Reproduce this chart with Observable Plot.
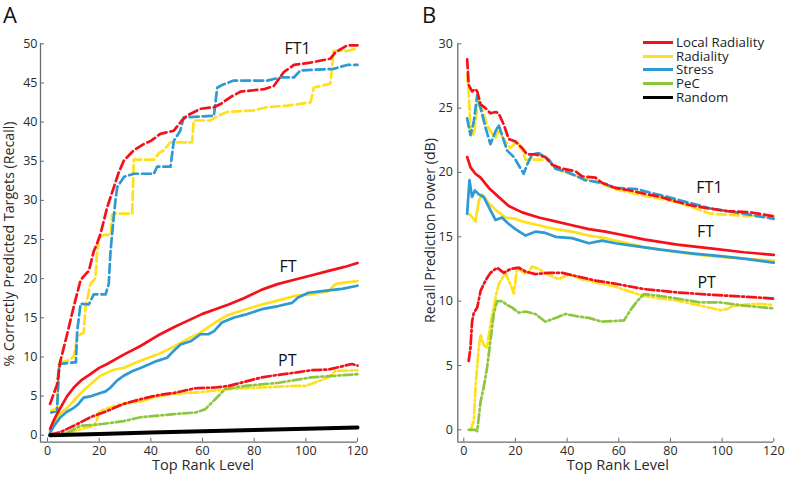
<!DOCTYPE html>
<html><head><meta charset="utf-8">
<script src="https://cdn.jsdelivr.net/npm/d3@7"></script>
<script src="https://cdn.jsdelivr.net/npm/@observablehq/plot@0.6"></script>
<style>
body{margin:0;background:#fff;font-family:"Open Sans",sans-serif;}
#wrap{position:relative;width:787px;height:478px;overflow:hidden;background:#fff;}
.panel{position:absolute;top:0;}
.letter{position:absolute;top:0;font-size:22px;line-height:1.36;color:#111;font-family:"Open Sans",sans-serif;}
.legend{position:absolute;left:643px;top:36px;font-size:13.3px;color:#222;line-height:1;}
.legend .row{display:flex;align-items:center;height:13.6px;}
.legend .sw{display:inline-block;width:30px;height:3px;margin-right:3px;}
</style></head><body><div id="wrap"></div>
<script>
// ---------- Panel A: % correctly predicted targets (recall) ----------
const xTicks = [0, 20, 40, 60, 80, 100, 120];
const yTicksA = [0, 5, 10, 15, 20, 25, 30, 35, 40, 45, 50];
const yTicksB = [0, 5, 10, 15, 20, 25, 30];

const aFT1Local = [[1,4],[3.7,6.5],[5,9.5],[7.6,12.9],[10.2,16.5],[12.8,19.8],[14,20.3],[16,21],[17.9,23.5],[19.2,24.5],[20.5,25.7],[23.1,29.1],[25.7,31.7],[27.5,33.5],[29.6,35.1],[33.4,36.4],[37.3,37.2],[40,37.6],[43.7,38.5],[48.9,38.9],[52,40.2],[53.9,40.8],[59.2,41.7],[64.4,41.9],[67,42.3],[70.9,43.2],[74.8,43.9],[83.8,44.2],[87.6,44.6],[91.5,46.4],[95.4,47.3],[101.8,47.6],[109.5,48.1],[111.4,48.9],[116,49.8],[120,49.8]];
const aFT1Radiality = [[1.5,3.1],[3.7,3.5],[4.5,9.3],[7.6,9.5],[9,9.7],[10.2,10.1],[11.5,12.5],[12.8,12.9],[14,13.1],[14.7,16.3],[16.6,19.3],[18.6,20.1],[19.2,23.5],[19.8,25.2],[22,25.6],[24.5,25.6],[25,28.2],[26.3,28.3],[32.8,28.3],[33.4,35.2],[41.1,35.2],[43,36],[45,36.4],[47.5,37.4],[56,37.4],[56.6,40.2],[63,40.2],[66,40.8],[69.6,41.3],[79.9,41.5],[85,41.9],[92.8,42.1],[101.8,42.5],[103.1,44.4],[109.5,44.9],[110.8,49.1],[116,49.1],[120,49.4]];
const aFT1Stress = [[1.5,2.9],[3.7,3.1],[4.5,9.1],[10.2,9.3],[11,9.3],[11.5,13.3],[12.8,16.8],[16,16.7],[17.9,18],[22.5,18],[23.7,19.3],[24.4,23.5],[25,25.7],[26.3,30],[27,31.7],[29.6,33],[33.4,33.4],[41.2,33.4],[42.4,34.3],[47.6,34.3],[48.9,37.6],[51.4,38.9],[52.7,40.6],[64.4,40.8],[65.7,44.4],[68,44.8],[72.1,45.3],[85,45.3],[90.2,45.7],[95.4,45.7],[97.9,46.6],[110.8,46.8],[116,47.3],[120,47.3]];

const aFTLocal = [[1,0.8],[2,1.6],[3.5,2.6],[5,3.5],[7.6,5],[10.2,6.1],[13,7],[16.6,7.8],[20,8.6],[23.1,9.1],[29.5,10.3],[36,11.4],[42.5,12.7],[48.9,13.8],[55.4,14.8],[60,15.5],[65,16.1],[70.1,16.7],[76,17.5],[83,18.6],[89,19.3],[95.9,19.9],[102,20.4],[108.8,21],[115,21.5],[120,22.0]];
const aFTRadiality = [[1,0.5],[3,1.8],[5,2.8],[7.6,3.5],[10.2,4.4],[13,5.4],[16.6,6.5],[20.5,7.6],[23.1,8],[26,8.4],[29.5,8.6],[33,9.1],[36,9.5],[42.5,10.3],[48.9,11.3],[55.4,12.5],[59.2,13.1],[64.9,14.4],[70.1,15.4],[76,16],[83,16.7],[89,17.2],[95.9,17.8],[102,18],[108.8,18.4],[111.4,19.3],[115,19.5],[120,19.7]];
const aFTStress = [[1,0.3],[2.5,1.2],[5,2.3],[7.5,3],[10.2,3.5],[12,4],[14,4.8],[17,5],[20.5,5.4],[22.5,5.6],[24.4,6.1],[27,7],[29.5,7.6],[33,8.2],[36,8.6],[42.5,9.5],[46.3,9.9],[48.9,10.8],[51.5,11.6],[55.4,12],[59.2,12.9],[62.3,12.9],[64.5,13.3],[67.5,14.4],[72,15],[76.5,15.4],[83,16.1],[89.4,16.5],[94.6,16.9],[97,17.6],[101,18.2],[108.8,18.5],[114,18.7],[120,19.1]];

const aPTLocal = [[1,0.1],[5,0.4],[10.2,1.2],[16.6,2.3],[23.1,3.1],[29.5,4],[36,4.6],[42.5,5.1],[48.9,5.4],[57.2,6],[65,6.1],[70.1,6.3],[76,6.8],[83,7.4],[89,7.7],[95.9,8],[102,8.3],[108.8,8.4],[114,8.8],[117.8,9.1],[120,8.9]];
const aPTRadiality = [[1,0],[5,0.1],[10.2,0.5],[15.4,1],[18,1.2],[19.2,2],[20,3],[22,3.3],[25.7,3.7],[29,4],[36,4.3],[42,4.9],[48.9,5.3],[59.2,5.5],[70.1,5.9],[83,6.1],[95.9,6.3],[100,6.3],[104.9,6.9],[108.8,7.4],[111.4,8.2],[120,8.3]];
const aPTPeC = [[1,0],[7.6,0.3],[12.8,1.2],[20.5,1.4],[29.5,1.8],[36,2.3],[48.9,2.7],[57.2,2.9],[61,3.3],[64.9,4.6],[68.8,5.9],[76.5,6.3],[89.4,6.7],[102.3,7.4],[111.4,7.6],[120,7.8]];
const aRandom = [[1,0],[20,0.17],[40,0.34],[60,0.5],[80,0.67],[100,0.84],[120,1.0]];

// ---------- Panel B: recall prediction power (dB) ----------
const bFT1Local = [[1.3,28.8],[1.9,26.8],[3.2,26.3],[4.5,26.5],[5.2,26.3],[6.5,25.3],[8.4,25.0],[10.3,24.6],[12.3,24.7],[13.5,24.6],[15.5,23.7],[17.4,22.6],[20,22.4],[22.6,21.9],[24.5,21.4],[27.7,21.4],[31.6,21.2],[34.2,20.6],[38.1,20.3],[43.2,20.1],[45.8,19.7],[51,19.6],[53.5,19.2],[58.7,18.8],[64.5,18.6],[70,18.35],[76.2,18.1],[82,17.75],[89,17.4],[95,17.2],[102,17.0],[111,16.9],[120,16.6]];
const bFT1Radiality = [[1.3,27.6],[1.9,26.3],[2.6,23.2],[3.9,22.9],[5.2,25],[5.8,25.8],[7.1,25],[9,23.7],[10.3,23.2],[12.3,22.7],[13.5,23.2],[16.1,22.4],[18,21.9],[20.6,22.4],[22.6,21.7],[23.9,21],[32.9,21],[34.8,20.4],[39.4,20],[45.8,19.6],[52.3,19.2],[58.7,18.7],[69.7,18.2],[82.6,17.7],[90,17.2],[95.5,16.8],[108.4,16.65],[120,16.5]];
const bFT1Stress = [[1.3,24.2],[2.6,22.9],[3.9,24],[5.2,26],[6.5,25],[8.4,23.5],[10.3,22.2],[12.3,23.2],[13.5,23.7],[14.8,22.9],[16.8,21.7],[19.4,21.2],[23.2,19.9],[24.5,20.6],[26.5,21.4],[29,21.5],[32.9,21],[35.5,20.3],[40.6,20],[47,19.4],[53.5,19.2],[58.7,18.8],[67.1,18.7],[82.6,17.9],[95.5,17.2],[108.4,16.8],[120,16.4]];

const bFTLocal = [[1.3,21.2],[2.6,20.4],[4.5,19.9],[6.5,19.6],[9.7,18.8],[13.5,18.1],[17.4,17.4],[22.6,16.9],[29,16.5],[35.5,16.2],[41.9,15.9],[48.4,15.6],[54.8,15.4],[60,15.2],[69.7,14.8],[82.6,14.4],[95.5,14.1],[108.4,13.8],[120,13.6]];
const bFTRadiality = [[1.3,16.8],[2.6,16.7],[4.5,16.2],[5.8,17.8],[7.1,18.3],[9.7,17.6],[12.3,17.1],[16.1,16.5],[20,16.4],[22.6,16.2],[29,15.9],[35.5,15.6],[41.9,15.4],[48.4,15.1],[54.8,14.9],[58.7,14.7],[69.7,14.2],[82.6,13.8],[95.5,13.5],[108.4,13.3],[120,13.15]];
const bFTStress = [[1.3,16.8],[2.2,19.4],[3.2,18.1],[4.3,18.6],[5.8,18.3],[7.7,18.1],[9.7,17.3],[12.3,16.3],[14.8,16.5],[17.4,16],[20,15.6],[23.9,15.1],[27.7,15.4],[31.6,15.3],[35.5,15],[41.9,14.9],[48.4,14.5],[53.5,14.7],[58.7,14.5],[65.8,14.3],[76.2,14.0],[89,13.7],[99.4,13.5],[108.4,13.3],[120,13.0]];

const bPTLocal = [[1.9,5.35],[2.6,6.4],[3.2,8.4],[3.9,9.1],[5.2,9.5],[6.5,10.8],[8.4,11.6],[10.3,12.2],[12.9,12.6],[15.5,12.2],[18.1,12.5],[21.3,12.6],[23.9,12.3],[27.7,12.1],[32.9,12.2],[38.1,12.2],[44.5,11.9],[51,11.6],[57.4,11.4],[69.7,10.94],[82.6,10.68],[95.5,10.5],[108.4,10.35],[120,10.2]];
const bPTRadiality = [[2.6,0],[3.9,0.7],[4.5,3.3],[5.8,6.4],[6.5,7.4],[7.7,6.6],[9,6.4],[10.3,8.2],[12.3,10.3],[13.5,11.3],[16.1,12.2],[18.7,11],[19.4,10.6],[20.6,12.6],[22.6,12.3],[24.5,12.1],[26.5,12.7],[29,12.5],[32.3,12.1],[36.8,11.7],[40.6,12.1],[45.8,11.7],[52.3,11.4],[57.4,11.2],[69.7,10.4],[82.6,10.04],[91.6,9.65],[99.4,9.3],[102,9.4],[104.5,9.65],[113.6,9.8],[120,9.7]];
const bPTPeC = [[1.9,0],[4.5,0],[5.2,-0.1],[6.5,2.2],[7.7,3.3],[9,4.8],[10.3,6.9],[11.6,9],[12.9,10],[14.8,10],[16.8,9.7],[18.7,9.5],[21.3,9.1],[23.9,9.2],[27.7,9],[31.6,8.4],[35.5,8.7],[39.4,9],[44.5,8.8],[48.4,8.7],[53.5,8.4],[57.4,8.45],[62,8.5],[64.5,9.3],[67.1,10.0],[69.7,10.55],[76.2,10.4],[82.6,10.2],[91.6,9.9],[99.4,9.9],[108.4,9.65],[120,9.44]];

const methods = ["Local Radiality", "Radiality", "Stress", "PeC", "Random"];
const colors = ["#f5101a", "#ffe01a", "#2d9ad3", "#8cc63f", "#000000"];
const groupLabels = ["FT1", "FT", "PT"];
const labelPosA = [[96.8, 49.4], [93.1, 21.5], [92.8, 9.5]];
const labelPosB = [[95.1, 18.8], [93.6, 15.35], [94, 11.4]];

const DASH = "9,4";
const DASHDOT = "9,3,2,3";
const col = Object.fromEntries(methods.map((m, i) => [m, colors[i]]));

const seriesA = [
  {data: aFT1Radiality, m: "Radiality", dash: DASH},
  {data: aFT1Stress, m: "Stress", dash: DASH},
  {data: aFT1Local, m: "Local Radiality", dash: DASH},
  {data: aFTRadiality, m: "Radiality", dash: null},
  {data: aFTStress, m: "Stress", dash: null},
  {data: aFTLocal, m: "Local Radiality", dash: null},
  {data: aPTRadiality, m: "Radiality", dash: DASHDOT},
  {data: aPTPeC, m: "PeC", dash: DASHDOT},
  {data: aPTLocal, m: "Local Radiality", dash: DASHDOT},
  {data: aRandom, m: "Random", dash: null, w: 4}
];
const seriesB = [
  {data: bFT1Radiality, m: "Radiality", dash: DASH},
  {data: bFT1Stress, m: "Stress", dash: DASH},
  {data: bFT1Local, m: "Local Radiality", dash: DASH},
  {data: bFTRadiality, m: "Radiality", dash: null},
  {data: bFTStress, m: "Stress", dash: null},
  {data: bFTLocal, m: "Local Radiality", dash: null},
  {data: bPTRadiality, m: "Radiality", dash: DASHDOT},
  {data: bPTPeC, m: "PeC", dash: DASHDOT},
  {data: bPTLocal, m: "Local Radiality", dash: DASHDOT}
];

const H = 478, MT = 43.3, MB = 36.3;
const axisColor = "#6b6b6b", textColor = "#2a2a2a";

function makePanel(o) {
  const innerW = o.width - o.ml - o.mr, innerH = H - MT - MB;
  const marks = [
    Plot.ruleX([o.xDomain[0]], {stroke: axisColor, strokeWidth: 1.3}),
    Plot.ruleY([o.yDomain[0]], {stroke: axisColor, strokeWidth: 1.3}),
    Plot.tickY(o.yTicks, {y: d => d, insetRight: innerW - 4, stroke: axisColor}),
    Plot.tickX(xTicks, {x: d => d, insetTop: innerH - 4, stroke: axisColor}),
    Plot.axisY({ticks: o.yTicks, tickSize: 0, tickPadding: o.yPad, label: null, fontSize: 12.5, fill: textColor}),
    Plot.axisX({ticks: xTicks, tickSize: 0, tickPadding: 4, label: null, fontSize: 12.5, fill: textColor}),
    ...o.series.map(s => Plot.line(s.data, {
      x: d => d[0], y: d => d[1], stroke: col[s.m], strokeWidth: s.w || 2.7,
      strokeDasharray: s.dash || undefined, strokeLinejoin: "round", curve: "linear"
    })),
    Plot.text(groupLabels.map((g, i) => ({g, x: o.labelPos[i][0], y: o.labelPos[i][1]})),
      {x: "x", y: "y", text: "g", fontSize: 16, fill: "#111", letterSpacing: 1}),
    Plot.text(["Top Rank Level"], {frameAnchor: "bottom", textAnchor: "middle", lineAnchor: "middle", dx: o.xtDx, dy: 23.5, fontSize: 14.6, fill: textColor}),
    Plot.text([o.yLabel], {frameAnchor: "left", textAnchor: "middle", lineAnchor: "middle", rotate: -90, dx: o.ytDx, dy: o.ytDy, fontSize: 14.2, fill: textColor})
  ];
  return Plot.plot({
    width: o.width, height: H,
    marginLeft: o.ml, marginRight: o.mr, marginTop: MT, marginBottom: MB,
    x: {domain: o.xDomain}, y: {domain: o.yDomain},
    style: {fontFamily: "Open Sans, sans-serif", background: "transparent", color: textColor, overflow: "visible"},
    marks
  });
}

const wrap = document.getElementById("wrap");
const pA = makePanel({width: 400, ml: 40, mr: 43, xDomain: [-2.71, 120], yDomain: [-0.89, 50], yTicks: yTicksA, yPad: 3,
  series: seriesA, labelPos: labelPosA, yLabel: "% Correctly Predicted Targets (Recall)", xtDx: 4, ytDx: -31, ytDy: 1});
pA.classList.add("panel"); pA.style.left = "0px";
const pB = makePanel({width: 387, ml: 57.3, mr: 13.7, xDomain: [-2.32, 120], yDomain: [-0.96, 30], yTicks: yTicksB, yPad: 5,
  series: seriesB, labelPos: labelPosB, yLabel: "Recall Prediction Power (dB)", xtDx: 2, ytDx: -27.3, ytDy: -12.5});
pB.classList.add("panel"); pB.style.left = "400px";
wrap.appendChild(pA); wrap.appendChild(pB);

const la = document.createElement("div"); la.className = "letter"; la.textContent = "A"; la.style.left = "3px"; wrap.appendChild(la);
const lb = document.createElement("div"); lb.className = "letter"; lb.textContent = "B"; lb.style.left = "422px"; wrap.appendChild(lb);

const leg = document.createElement("div"); leg.className = "legend";
methods.forEach((m, i) => {
  const r = document.createElement("div"); r.className = "row";
  const sw = document.createElement("span"); sw.className = "sw"; sw.style.background = colors[i];
  const t = document.createElement("span"); t.textContent = m;
  r.appendChild(sw); r.appendChild(t); leg.appendChild(r);
});
wrap.appendChild(leg);
</script></body></html>
